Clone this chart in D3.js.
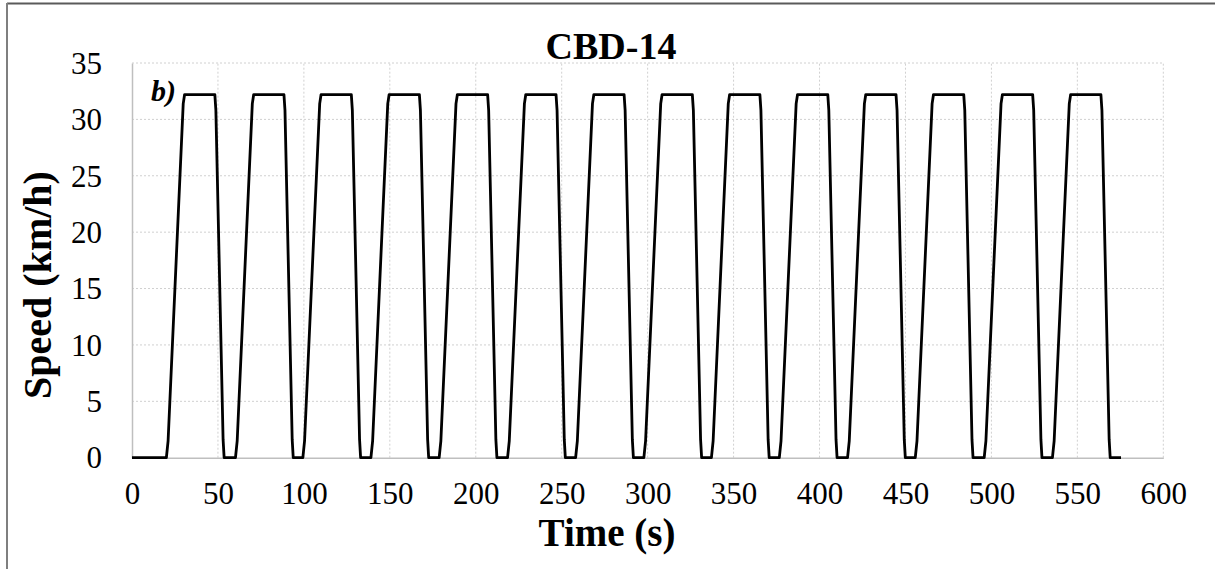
<!DOCTYPE html>
<html>
<head>
<meta charset="utf-8">
<script src="https://cdn.jsdelivr.net/npm/d3@7"></script>
<style>
    body { margin: 0; background: #fff; }
    svg text { font-family: "Liberation Serif", "Times New Roman", serif; }
</style>
</head>
<body>
<div id="chart"></div>
<script>
// speed trace: one CBD cycle profile repeated at each start time
const cycleStarts = [20, 60.2, 99.4, 139, 178.7, 218.5, 258.1, 297.8, 337.1, 376.6, 416.3, 455.7, 495.8, 535.5];
const profileOffsets = [0, 1, 9.8, 10.6, 28.2, 28.8, 33, 33.6];
const profileSpeeds = [0, 1.5, 31.4, 32.2, 32.2, 30.8, 1.6, 0];
const traceStart = 0;
const traceEnd = 575.4;

const xTicks = [0, 50, 100, 150, 200, 250, 300, 350, 400, 450, 500, 550, 600];
const yTicks = [0, 5, 10, 15, 20, 25, 30, 35];

const chartTitle = "CBD-14";
const xTitle = "Time (s)";
const yTitle = "Speed (km/h)";
const panelTag = "b)";

function buildTrace() {
    const pts = [[traceStart, 0]];
    cycleStarts.forEach((s) => {
        profileOffsets.forEach((o, i) => {
            pts.push([s + o, profileSpeeds[i]]);
        });
    });
    pts.push([traceEnd, 0]);
    return pts;
}

function drawChart() {
    const width = 1215, height = 569;
    const svg = d3.select("#chart")
        .append("svg")
        .attr("width", width)
        .attr("height", height);

    // outer frame (top and left edges visible)
    svg.append("line")
        .attr("x1", 7).attr("x2", width).attr("y1", 3.5).attr("y2", 3.5)
        .attr("stroke", "#5a5a5a").attr("stroke-width", 2);
    svg.append("line")
        .attr("x1", 7).attr("x2", 7).attr("y1", 3).attr("y2", height)
        .attr("stroke", "#7f7f7f").attr("stroke-width", 2);

    const x = d3.scaleLinear().domain([0, 600]).range([132, 1163.3]);
    const y = d3.scaleLinear().domain([0, 35]).range([457.7, 63]);

    // grid
    const grid = svg.append("g");
    grid.selectAll(".gx")
        .data(xTicks.filter(d => d > 0))
        .join("line")
        .attr("x1", d => x(d)).attr("x2", d => x(d))
        .attr("y1", y(0)).attr("y2", y(35))
        .attr("stroke", "#d0d0d0").attr("stroke-width", 1)
        .attr("stroke-dasharray", "2,2");
    grid.selectAll(".gy")
        .data(yTicks.filter(d => d > 0))
        .join("line")
        .attr("x1", x(0)).attr("x2", x(600))
        .attr("y1", d => y(d)).attr("y2", d => y(d))
        .attr("stroke", "#d0d0d0").attr("stroke-width", 1)
        .attr("stroke-dasharray", "2,2");

    // axes
    const xAxis = svg.append("g")
        .attr("transform", `translate(0,${y(0)})`)
        .call(d3.axisBottom(x).tickValues(xTicks).tickSize(0).tickPadding(24));
    const yAxis = svg.append("g")
        .attr("transform", `translate(${x(0)},0)`)
        .call(d3.axisLeft(y).tickValues(yTicks).tickSize(0).tickPadding(30));
    [xAxis, yAxis].forEach((a) => {
        a.select(".domain").attr("stroke", "#bfbfbf").attr("stroke-width", 1.5);
        a.selectAll("text")
            .attr("font-family", "Liberation Serif, Times New Roman, serif")
            .attr("font-size", 31)
            .attr("fill", "#000");
    });
    xAxis.selectAll("text").attr("dy", "0.71em");
    yAxis.selectAll("text").attr("dy", "0.33em");

    // speed line
    const line = d3.line()
        .x(d => x(d[0]))
        .y(d => y(d[1]));
    svg.append("path")
        .datum(buildTrace())
        .attr("d", line)
        .attr("fill", "none")
        .attr("stroke", "#000")
        .attr("stroke-width", 2.8)
        .attr("stroke-linejoin", "round");

    // texts
    svg.append("text")
        .attr("x", 611).attr("y", 59)
        .attr("text-anchor", "middle")
        .attr("font-size", 38).attr("font-weight", "bold")
        .text(chartTitle);
    svg.append("text")
        .attr("x", 607).attr("y", 546)
        .attr("text-anchor", "middle")
        .attr("font-size", 39).attr("font-weight", "bold")
        .text(xTitle);
    svg.append("text")
        .attr("transform", "translate(51,285) rotate(-90)")
        .attr("text-anchor", "middle")
        .attr("font-size", 40).attr("font-weight", "bold")
        .text(yTitle);
    svg.append("text")
        .attr("x", 151).attr("y", 101)
        .attr("font-size", 30).attr("font-weight", "bold").attr("font-style", "italic")
        .text(panelTag);
}

drawChart();
</script>
</body>
</html>
